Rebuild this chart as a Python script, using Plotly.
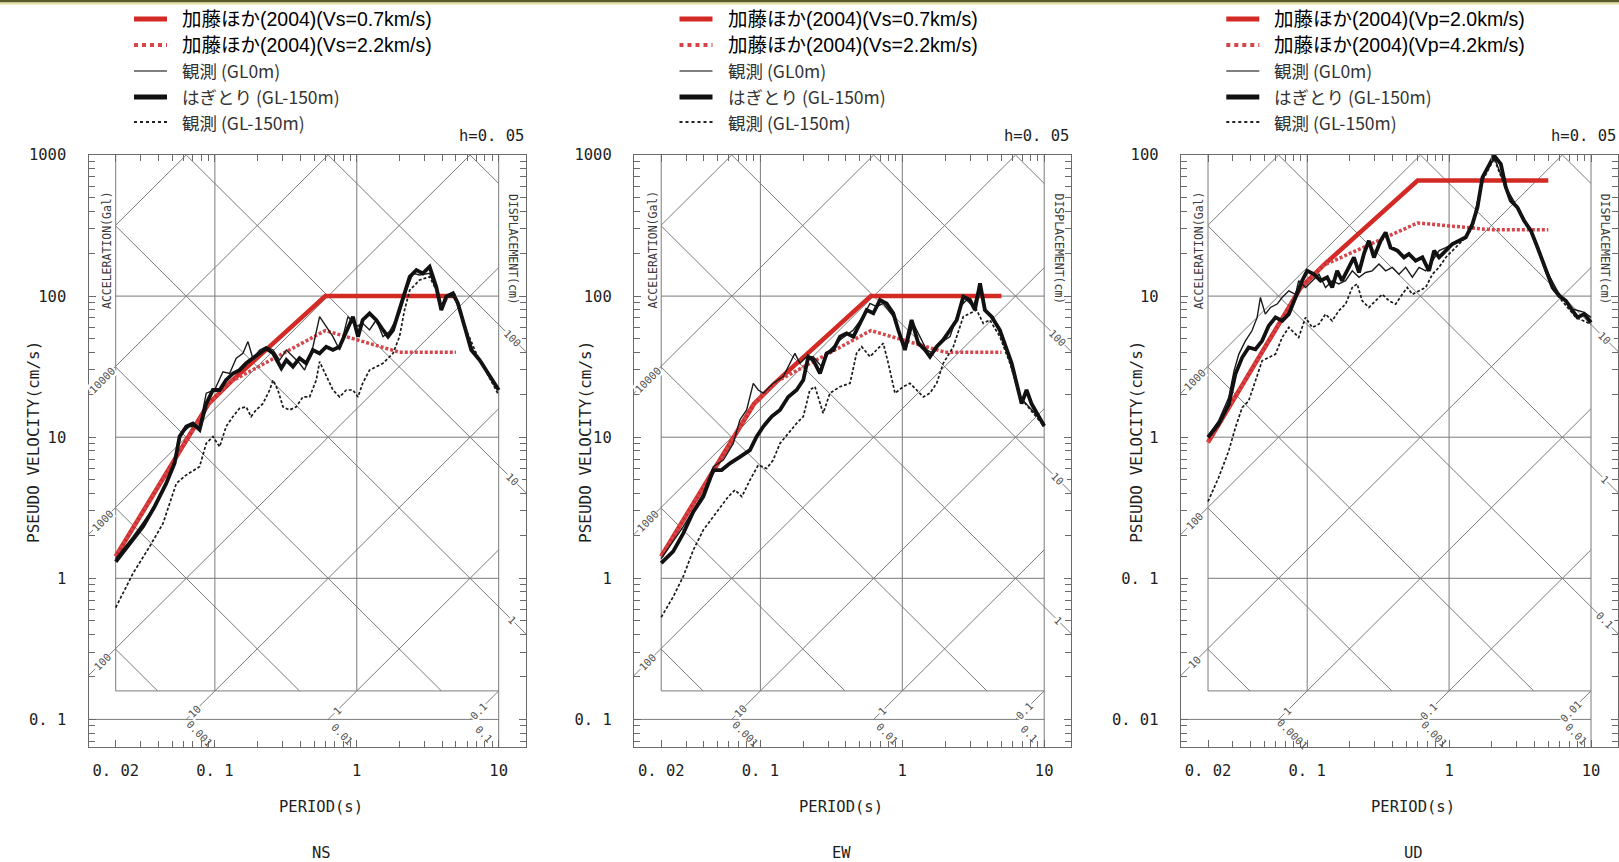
import math
import plotly.graph_objects as go

W, H = 1619, 862

# ------------------------------------------------------------------ spectra
# Kato et al. (2004) upper-level spectra: period (s) / pseudo velocity (cm/s)
kato_h07_T = [0.02, 0.09, 0.13, 0.6, 5.0]
kato_h07_SV = [1.43, 17.2, 24.8, 100.0, 100.0]
kato_h22_T = [0.02, 0.09, 0.13, 0.6, 2.0, 5.0]
kato_h22_SV = [1.43, 17.2, 24.8, 57.0, 40.0, 40.0]
kato_v20_T = [0.02, 0.09, 0.13, 0.6, 5.0]
kato_v20_SV = [0.92, 11.5, 16.5, 66.0, 66.0]
kato_v42_T = [0.02, 0.09, 0.13, 0.6, 2.0, 5.0]
kato_v42_SV = [0.92, 11.5, 16.5, 33.0, 29.5, 29.5]

# NS component
ns_strip_T = [0.02, 0.0251, 0.0311, 0.0376, 0.0454, 0.052, 0.0564, 0.0629, 0.070, 0.078,
              0.0869, 0.0969, 0.108, 0.120, 0.134, 0.149, 0.166, 0.185, 0.207, 0.230,
              0.257, 0.294, 0.319, 0.355, 0.395, 0.440, 0.491, 0.547, 0.609, 0.679,
              0.757, 0.843, 0.939, 1.02, 1.10, 1.23, 1.37, 1.53, 1.66, 1.80,
              2.0, 2.17, 2.36, 2.63, 2.92, 3.26, 3.63, 3.94, 4.27, 4.76,
              5.16, 5.75, 6.41, 7.34, 8.40, 10.0]
ns_strip_SV = [1.31, 1.77, 2.32, 3.22, 4.71, 6.53, 10.1, 11.9, 12.5, 11.3,
               17.3, 21.6, 21.6, 25.4, 28.3, 29.9, 33.4, 36.3, 39.3, 42.6,
               39.3, 30.8, 35.2, 31.6, 36.3, 33.4, 41.5, 39.3, 43.8, 41.5,
               43.8, 56.0, 71.5, 51.6, 67.7, 75.5, 67.7, 57.5, 51.6, 57.5,
               79.7, 104.5, 137, 153, 145, 161.7, 116.5, 79.7, 99, 104.5,
               88.8, 60.8, 41.5, 35.2, 28.3, 21.6]
ns_surf_T = [0.02, 0.0265, 0.0347, 0.0454, 0.052, 0.058, 0.0664, 0.078, 0.0869, 0.0995,
             0.114, 0.127, 0.1414, 0.1576, 0.171, 0.185, 0.207, 0.230, 0.257, 0.286,
             0.319, 0.355, 0.395, 0.429, 0.491, 0.547, 0.609, 0.679, 0.757, 0.866,
             0.991, 1.10, 1.23, 1.37, 1.53, 1.70, 2.0, 2.23, 2.49, 2.77,
             3.26, 3.63, 3.94, 4.27, 4.76, 5.30, 5.91, 6.58, 7.74, 10.0]
ns_surf_SV = [1.38, 1.97, 2.88, 4.71, 6.89, 10.65, 11.9, 11.9, 20.5, 21.6,
              29.1, 28.3, 36.3, 39.3, 47.6, 36.3, 41.5, 43.8, 41.5, 35.2,
              41.5, 37.2, 33.4, 29.9, 43.8, 71.5, 60.8, 51.6, 41.5, 71.5,
              60.8, 64.1, 57.5, 67.7, 51.6, 56.0, 75.5, 110, 145, 141,
              145, 110, 84.1, 99, 99, 84.1, 57.5, 41.5, 33.4, 21.6]
ns_bore_T = [0.02, 0.0265, 0.0347, 0.0431, 0.0535, 0.0629, 0.078, 0.0869, 0.0969, 0.108,
             0.120, 0.134, 0.149, 0.166, 0.180, 0.195, 0.218, 0.243, 0.257, 0.278,
             0.302, 0.336, 0.374, 0.417, 0.465, 0.518, 0.547, 0.609, 0.679, 0.757,
             0.843, 0.939, 1.02, 1.10, 1.23, 1.53, 1.80, 2.0, 2.17, 2.36,
             2.77, 3.26, 3.63, 4.05, 4.39, 4.89, 5.91, 6.95, 10.0]
ns_bore_SV = [0.62, 1.085, 1.68, 2.45, 4.71, 5.4, 6.18, 9.03, 10.1, 8.55,
              11.9, 14.0, 16.0, 16.4, 14.0, 15.6, 17.3, 21.6, 25.4, 21.6,
              16.4, 15.6, 16.4, 19.3, 19.3, 25.4, 34.3, 26.9, 21.6, 19.3,
              21.6, 21.6, 19.3, 24.1, 29.9, 33.4, 39.3, 51.6, 79.7, 110,
              130, 137, 110, 84.1, 99, 99, 57.5, 39.3, 19.9]

# EW component
ew_strip_T = [0.02, 0.0243, 0.0286, 0.0337, 0.0396, 0.0466, 0.0533, 0.061, 0.0718, 0.0844,
              0.094, 0.1048, 0.120, 0.1374, 0.157, 0.180, 0.2006, 0.2176, 0.236, 0.263,
              0.293, 0.326, 0.364, 0.405, 0.452, 0.503, 0.561, 0.625, 0.696, 0.775,
              0.864, 0.937, 1.044, 1.163, 1.296, 1.445, 1.566, 1.745, 1.944, 2.17,
              2.42, 2.69, 3.0, 3.25, 3.53, 3.82, 4.26, 4.87, 5.44, 5.9,
              6.39, 6.93, 7.51, 8.14, 10.0]
ew_strip_SV = [1.28, 1.55, 2.08, 2.96, 3.79, 5.85, 5.85, 6.53, 7.26, 8.1,
               10.1, 11.9, 14.0, 15.6, 19.3, 21.6, 25.4, 37.2, 35.2, 28.3,
               39.3, 41.5, 51.6, 54.5, 51.6, 64.1, 79.7, 75.5, 93.8, 88.8,
               75.5, 57.5, 41.5, 67.7, 46.3, 41.5, 37.2, 43.8, 48.9, 57.5,
               67.7, 99, 93.8, 79.7, 123, 79.7, 71.5, 57.5, 41.5, 33.4,
               24.1, 17.3, 21.6, 17.3, 12.0]
ew_surf_T = [0.02, 0.0286, 0.0396, 0.0466, 0.0548, 0.0644, 0.0718, 0.080, 0.0891, 0.0966,
             0.1048, 0.123, 0.145, 0.175, 0.190, 0.2114, 0.236, 0.270, 0.309, 0.364,
             0.452, 0.530, 0.592, 0.659, 0.734, 0.864, 0.963, 1.073, 1.195, 1.332,
             1.484, 1.653, 1.842, 2.17, 2.55, 2.84, 3.17, 3.53, 3.93, 4.37,
             5.44, 6.74, 10.0]
ew_surf_SV = [1.38, 2.32, 4.0, 6.18, 6.89, 9.03, 13.3, 15.6, 24.1, 21.6,
              20.5, 24.1, 26.9, 39.3, 33.4, 37.2, 37.2, 31.6, 41.5, 48.9,
              57.5, 71.5, 88.8, 84.1, 88.8, 71.5, 51.6, 43.8, 64.1, 51.6,
              41.5, 39.3, 46.3, 51.6, 84.1, 93.8, 84.1, 123, 75.5, 71.5,
              41.5, 19.3, 12.5]
ew_bore_T = [0.02, 0.0243, 0.0286, 0.0337, 0.0396, 0.0466, 0.0533, 0.0594, 0.0662, 0.074,
             0.0844, 0.0966, 0.1107, 0.123, 0.1374, 0.157, 0.180, 0.2006, 0.223, 0.2424,
             0.263, 0.277, 0.309, 0.364, 0.428, 0.476, 0.517, 0.592, 0.659, 0.734,
             0.797, 0.888, 1.016, 1.132, 1.262, 1.406, 1.566, 1.745, 1.944, 2.29,
             2.69, 3.0, 3.34, 3.72, 4.14, 4.87, 5.74, 6.74, 10.0]
ew_bore_SV = [0.53, 0.74, 1.03, 1.59, 2.2, 2.73, 3.31, 3.79, 4.22, 3.79,
              4.97, 6.35, 6.0, 6.89, 9.03, 10.65, 12.55, 14.0, 21.6, 22.8,
              17.3, 14.8, 20.5, 22.8, 24.1, 39.3, 43.8, 37.2, 41.5, 46.3,
              33.4, 20.5, 22.8, 24.1, 21.6, 19.3, 20.5, 24.1, 33.4, 43.8,
              71.5, 75.5, 79.7, 64.1, 67.7, 51.6, 33.4, 19.3, 11.9]

# UD component
ud_strip_T = [0.02, 0.0238, 0.028, 0.0312, 0.0348, 0.0387, 0.0432, 0.0481, 0.0536, 0.0598,
              0.0666, 0.0742, 0.0827, 0.0921, 0.100, 0.1112, 0.1243, 0.1383, 0.150, 0.1627,
              0.176, 0.1965, 0.2135, 0.2316, 0.251, 0.272, 0.2955, 0.3296, 0.357, 0.387,
              0.432, 0.481, 0.521, 0.5815, 0.648, 0.722, 0.784, 0.85, 0.947, 1.055,
              1.176, 1.311, 1.461, 1.585, 1.719, 1.916, 2.078, 2.316, 2.51, 2.72,
              3.03, 3.38, 3.77, 4.20, 4.81, 5.36, 5.97, 6.65, 7.42, 8.04,
              8.96, 10.0]
ud_strip_SV = [1.0, 1.24, 1.71, 2.80, 3.67, 4.33, 4.2, 4.82, 6.16, 7.06,
               6.68, 7.45, 9.78, 12.85, 15.1, 14.3, 12.85, 13.6, 11.5, 15.1,
               12.85, 16.0, 18.8, 14.7, 19.9, 24.7, 18.8, 24.7, 28.3, 22.1,
               21.0, 18.8, 19.9, 17.8, 18.8, 15.1, 21.0, 18.8, 21.0, 23.4,
               24.7, 26.1, 32.4, 42.6, 69.4, 86.3, 98.9, 86.3, 59.0, 47.4,
               42.6, 34.2, 29.1, 22.1, 15.1, 11.5, 10.05, 9.27, 7.87, 7.06,
               7.45, 6.5]
ud_surf_T = [0.02, 0.0238, 0.028, 0.0305, 0.033, 0.0367, 0.0408, 0.0444, 0.0468, 0.0507,
             0.0551, 0.0614, 0.0666, 0.0742, 0.0827, 0.0871, 0.0973, 0.1084, 0.121, 0.1347,
             0.150, 0.167, 0.1865, 0.2078, 0.2316, 0.258, 0.287, 0.3206, 0.357, 0.398,
             0.4437, 0.494, 0.551, 0.614, 0.684, 0.763, 0.85, 0.947, 1.055, 1.176,
             1.311, 1.461, 1.719, 2.078, 2.51, 3.12, 3.87, 4.81, 5.97, 7.42,
             8.96, 10.0]
ud_surf_SV = [1.02, 1.31, 1.91, 2.95, 3.88, 4.82, 5.68, 7.06, 9.78, 7.45,
              8.31, 8.78, 9.78, 10.9, 10.3, 12.85, 11.5, 12.85, 14.3, 11.5,
              12.85, 12.2, 12.85, 15.1, 13.6, 14.7, 15.1, 16.9, 15.1, 16.0,
              14.3, 16.0, 13.6, 16.0, 15.1, 17.8, 21.0, 22.1, 23.4, 24.7,
              26.1, 32.4, 67.6, 96.4, 59.0, 40.5, 27.5, 15.5, 10.3, 8.1,
              7.66, 7.06]
ud_bore_T = [0.02, 0.0238, 0.028, 0.0312, 0.0348, 0.0387, 0.0432, 0.0481, 0.0536, 0.0598,
             0.0666, 0.0742, 0.0827, 0.0871, 0.0973, 0.1084, 0.121, 0.1347, 0.150, 0.167,
             0.1865, 0.2078, 0.225, 0.244, 0.272, 0.304, 0.338, 0.377, 0.42, 0.468,
             0.5075, 0.551, 0.614, 0.684, 0.763, 0.85, 0.947, 1.055, 1.176, 1.311,
             1.461, 1.719, 2.078, 2.51, 3.12, 3.87, 4.81, 5.97, 7.83, 10.0]
ud_bore_SV = [0.35, 0.52, 0.80, 1.17, 1.62, 1.81, 2.51, 3.48, 3.67, 3.88,
              5.09, 6.0, 5.38, 5.09, 7.06, 6.0, 6.33, 7.45, 6.68, 7.87,
              8.78, 11.5, 12.2, 9.27, 8.31, 9.27, 10.3, 9.27, 8.78, 10.3,
              11.5, 10.3, 10.9, 11.5, 14.3, 16.0, 18.8, 21.0, 23.4, 26.1,
              30.6, 65.8, 94.0, 57.4, 40.5, 27.5, 14.7, 9.78, 7.06, 6.33]

# axis labels
period_ticks = [0.02, 0.1, 1, 10]
period_ticktext = ["0. 02", "0. 1", "1", "10"]
vel_ticks_h = [0.1, 1, 10, 100, 1000]
vel_ticktext_h = ["0. 1", "1", "10", "100", "1000"]
vel_ticks_v = [0.01, 0.1, 1, 10, 100]
vel_ticktext_v = ["0. 01", "0. 1", "1", "10", "100"]

legend_kato_h = ["加藤ほか(2004)(Vs=0.7km/s)", "加藤ほか(2004)(Vs=2.2km/s)"]
legend_kato_v = ["加藤ほか(2004)(Vp=2.0km/s)", "加藤ほか(2004)(Vp=4.2km/s)"]
legend_obs = ["観測 (GL0m)", "はぎとり (GL-150m)", "観測 (GL-150m)"]

# ------------------------------------------------------------------ style
MONO = "DejaVu Sans Mono, monospace"
JP = "Noto Sans CJK JP, sans-serif"
LATIN_JP = "Liberation Sans, Arial, Noto Sans CJK JP, sans-serif"
GRID = "#7a7a7a"
FRAME = "#6a6a6a"
TEXT = "#1e1e1e"
RED = "#d42a26"
RED_DOT = "#d5454a"
BLACK = "#111111"

FRAME_W = 437.4                 # px width of each tripartite frame
FRAME_TOP, FRAME_BOT = 155.0, 747.0
X_RANGE = [-1.8907, 1.1917]     # log10 period across the frame
Y_SPAN = 4.1956                 # decades of velocity across the frame
TWO_PI = 2 * math.pi

panels = [
    dict(name="NS", left=88.5, top_dec=3, ytitle_dx=-55.5, title_dx=232.5,
         kato=[(kato_h07_T, kato_h07_SV), (kato_h22_T, kato_h22_SV)],
         obs=[(ns_surf_T, ns_surf_SV), (ns_strip_T, ns_strip_SV), (ns_bore_T, ns_bore_SV)],
         yt=(vel_ticks_h, vel_ticktext_h), leg=legend_kato_h),
    dict(name="EW", left=634.0, top_dec=3, ytitle_dx=-49.0, title_dx=207.0,
         kato=[(kato_h07_T, kato_h07_SV), (kato_h22_T, kato_h22_SV)],
         obs=[(ew_surf_T, ew_surf_SV), (ew_strip_T, ew_strip_SV), (ew_bore_T, ew_bore_SV)],
         yt=(vel_ticks_h, vel_ticktext_h), leg=legend_kato_h),
    dict(name="UD", left=1180.8, top_dec=2, ytitle_dx=-45.0, title_dx=232.5,
         kato=[(kato_v20_T, kato_v20_SV), (kato_v42_T, kato_v42_SV)],
         obs=[(ud_surf_T, ud_surf_SV), (ud_strip_T, ud_strip_SV), (ud_bore_T, ud_bore_SV)],
         yt=(vel_ticks_v, vel_ticktext_v), leg=legend_kato_v),
]


def px(x, y):
    return x / W, 1 - y / H


def minor_vals(lo, hi):
    out = []
    for e in range(math.floor(lo) - 1, math.ceil(hi) + 1):
        for m in range(2, 10):
            v = m * 10 ** e
            if lo <= math.log10(v) <= hi:
                out.append(v)
    return out


def fmt(v):
    return f"{v:g}"


fig = go.Figure()
annotations = []
shapes = []

for i, p in enumerate(panels):
    sfx = "" if i == 0 else str(i + 1)
    xr, yr = "x" + sfx, "y" + sfx
    left = p["left"]
    top_dec = p["top_dec"]
    y_range = [top_dec - Y_SPAN, top_dec]
    top = 10 ** top_dec
    bot = 10 ** (top_dec - 3) / TWO_PI      # bottom of the inner period box
    hline = 10 ** (top_dec - 4)              # lowest labelled velocity line
    t_left, t_right = 10 ** X_RANGE[0], 10 ** X_RANGE[1]
    sv_floor = 10 ** y_range[0]

    gx, gy = [], []

    def seg(x0, y0, x1, y1):
        gx.extend([x0, x1, None])
        gy.extend([y0, y1, None])

    # inner box and rectangular grid
    seg(0.02, bot, 0.02, top)
    seg(0.1, bot, 0.1, top)
    seg(1, bot, 1, top)
    seg(10, sv_floor, 10, top)
    seg(0.02, bot, 10, bot)
    seg(t_left, hline, 10, hline)
    for k in range(1, 4):
        seg(0.02, hline * 10 ** k, 10, hline * 10 ** k)

    diag_font = dict(family=MONO, size=10.5, color="#505050")

    # constant-acceleration lines (Gal)
    for k in range(top_dec - 4, top_dec + 3):
        a = 10.0 ** k
        t1 = max(0.02, TWO_PI * bot / a)
        t2 = min(10.0, TWO_PI * top / a)
        if t1 < t2:
            seg(t1, a * t1 / TWO_PI, t2, a * t2 / TWO_PI)
        if TWO_PI * bot / a < 0.02:
            sv0 = a * 0.02 / TWO_PI
            if math.log10(sv0) < top_dec - 1.0:
                seg(t_left, a * t_left / TWO_PI, 0.02, sv0)
                lt = (X_RANGE[0] + math.log10(0.02)) / 2
                annotations.append(dict(
                    x=lt, y=math.log10(a / TWO_PI) + lt, xref=xr, yref=yr,
                    text=fmt(a), showarrow=False, textangle=-45, font=diag_font,
                    bgcolor="white", borderpad=0))
        else:
            tc = TWO_PI * hline / a
            if 0.02 <= tc <= 10:
                seg(TWO_PI * bot / a, bot, tc, hline)
                annotations.append(dict(
                    x=math.log10(tc) + 0.06, y=math.log10(hline) + 0.06, xref=xr, yref=yr,
                    text=fmt(a), showarrow=False, textangle=-45, font=diag_font,
                    bgcolor="white", borderpad=0))

    # constant-displacement lines (cm)
    for k in range(top_dec - 6, top_dec + 1):
        d = 10.0 ** k
        t1 = max(0.02, TWO_PI * d / top)
        t2 = min(10.0, TWO_PI * d / bot)
        if t1 < t2:
            seg(t1, TWO_PI * d / t1, t2, TWO_PI * d / t2)
        if TWO_PI * d / bot > 10:
            sv10 = TWO_PI * d / 10
            if math.log10(sv10) < top_dec - 1.0:
                seg(10, sv10, t_right, TWO_PI * d / t_right)
                lt = (1 + X_RANGE[1]) / 2
                annotations.append(dict(
                    x=lt, y=math.log10(TWO_PI * d) - lt, xref=xr, yref=yr,
                    text=fmt(d), showarrow=False, textangle=45, font=diag_font,
                    bgcolor="white", borderpad=0))
        else:
            tc = TWO_PI * d / hline
            if 0.02 <= tc <= 10:
                annotations.append(dict(
                    x=math.log10(tc) + 0.1, y=math.log10(hline) - 0.1, xref=xr, yref=yr,
                    text=fmt(d), showarrow=False, textangle=45, font=diag_font))

    fig.add_trace(go.Scatter(x=gx, y=gy, xaxis=xr, yaxis=yr, mode="lines",
                             line=dict(color=GRID, width=1), hoverinfo="skip",
                             showlegend=False))

    # spectra
    (k1T, k1S), (k2T, k2S) = p["kato"]
    fig.add_trace(go.Scatter(x=k1T, y=k1S, xaxis=xr, yaxis=yr, mode="lines",
                             line=dict(color=RED, width=4.5), showlegend=False))
    fig.add_trace(go.Scatter(x=k2T, y=k2S, xaxis=xr, yaxis=yr, mode="lines",
                             line=dict(color=RED_DOT, width=3.5, dash="3px,2px"),
                             showlegend=False))
    (sT, sS), (hT, hS), (bT, bS) = p["obs"]
    fig.add_trace(go.Scatter(x=sT, y=sS, xaxis=xr, yaxis=yr, mode="lines",
                             line=dict(color="#1a1a1a", width=1.4), showlegend=False))
    fig.add_trace(go.Scatter(x=hT, y=hS, xaxis=xr, yaxis=yr, mode="lines",
                             line=dict(color=BLACK, width=3.8), showlegend=False))
    fig.add_trace(go.Scatter(x=bT, y=bS, xaxis=xr, yaxis=yr, mode="lines",
                             line=dict(color="#1a1a1a", width=1.7, dash="3px,2px"),
                             showlegend=False))

    # axes (frame, ticks, tick labels)
    yt_vals, yt_text = p["yt"]
    common = dict(type="log", showgrid=False, zeroline=False, showline=True,
                  linecolor=FRAME, linewidth=1.3, mirror="ticks", ticks="inside",
                  ticklen=7, tickwidth=1, tickcolor=FRAME, tickmode="array",
                  automargin=False,
                  tickfont=dict(family=MONO, size=15.5, color=TEXT), fixedrange=True)
    fig.update_layout({
        "xaxis" + sfx: dict(common, range=X_RANGE,
                            domain=[left / W, (left + FRAME_W) / W], anchor=yr,
                            tickvals=period_ticks, ticktext=period_ticktext,
                            ticklabelstandoff=9,
                            minor=dict(tickmode="array", tickvals=minor_vals(*X_RANGE),
                                       ticks="inside", ticklen=6, tickcolor=FRAME,
                                       showgrid=False)),
        "yaxis" + sfx: dict(common, range=y_range,
                            domain=[(H - FRAME_BOT) / H, (H - FRAME_TOP) / H], anchor=xr,
                            tickvals=yt_vals, ticktext=yt_text, ticklabelstandoff=18,
                            minor=dict(tickmode="array", tickvals=minor_vals(*y_range),
                                       ticks="inside", ticklen=6, tickcolor=FRAME,
                                       showgrid=False)),
    })

    # titles and side texts
    def note(x, y, text, size, angle=0, family=MONO, color=TEXT, xanchor="center"):
        ax_, ay_ = px(x, y)
        annotations.append(dict(x=ax_, y=ay_, xref="paper", yref="paper", text=text,
                                showarrow=False, textangle=angle, xanchor=xanchor,
                                yanchor="middle",
                                font=dict(family=family, size=size, color=color)))

    note(left + p["ytitle_dx"], 442, "PSEUDO VELOCITY(cm/s)", 16, angle=-90)
    note(left + p["title_dx"], 807, "PERIOD(s)", 15.5)
    note(left + p["title_dx"], 853, p["name"], 15.5)
    note(left + FRAME_W, 136, "h=0. 05", 15.5, xanchor="right")
    note(left + 18.5, 250, "ACCELERATION(Gal)", 11.5, angle=-90, color="#3a3a3a")
    note(left + 424.5, 249, "DISPLACEMENT(cm)", 11.5, angle=90, color="#3a3a3a")

    # legend block
    rows_y = [19, 45, 71, 97, 122]
    samples = [dict(color=RED, width=5, dash="solid"),
               dict(color=RED_DOT, width=4, dash="dot"),
               dict(color="#555", width=1.5, dash="solid"),
               dict(color=BLACK, width=5, dash="solid"),
               dict(color="#222", width=1.8, dash="dot")]
    labels = p["leg"] + legend_obs
    for r, (yy, ln, lab) in enumerate(zip(rows_y, samples, labels)):
        x0, y0 = px(left + 45.5, yy)
        x1, _ = px(left + 78.5, yy)
        shapes.append(dict(type="line", xref="paper", yref="paper", x0=x0, x1=x1,
                           y0=y0, y1=y0, line=ln))
        if r < 2:
            note(left + 91.5, yy, lab, 19.5, family=LATIN_JP, color="#000", xanchor="left")
        else:
            note(left + 91.5, yy, lab, 17.5, family=JP, color="#333", xanchor="left")

# page border strip along the top edge
shapes.append(dict(type="rect", xref="paper", yref="paper", x0=0, x1=1,
                   y0=1 - 2.5 / H, y1=1, line=dict(width=0), fillcolor="#5b5a2e"))
shapes.append(dict(type="rect", xref="paper", yref="paper", x0=0, x1=1,
                   y0=1 - 4.5 / H, y1=1 - 2.5 / H, line=dict(width=0), fillcolor="#e4df9c"))

fig.update_layout(width=W, height=H, autosize=False,
                  margin=dict(l=0, r=0, t=0, b=0, pad=0, autoexpand=False),
                  paper_bgcolor="white", plot_bgcolor="white",
                  annotations=annotations, shapes=shapes, showlegend=False)

fig.write_html("out.html", config={"displayModeBar": False})
